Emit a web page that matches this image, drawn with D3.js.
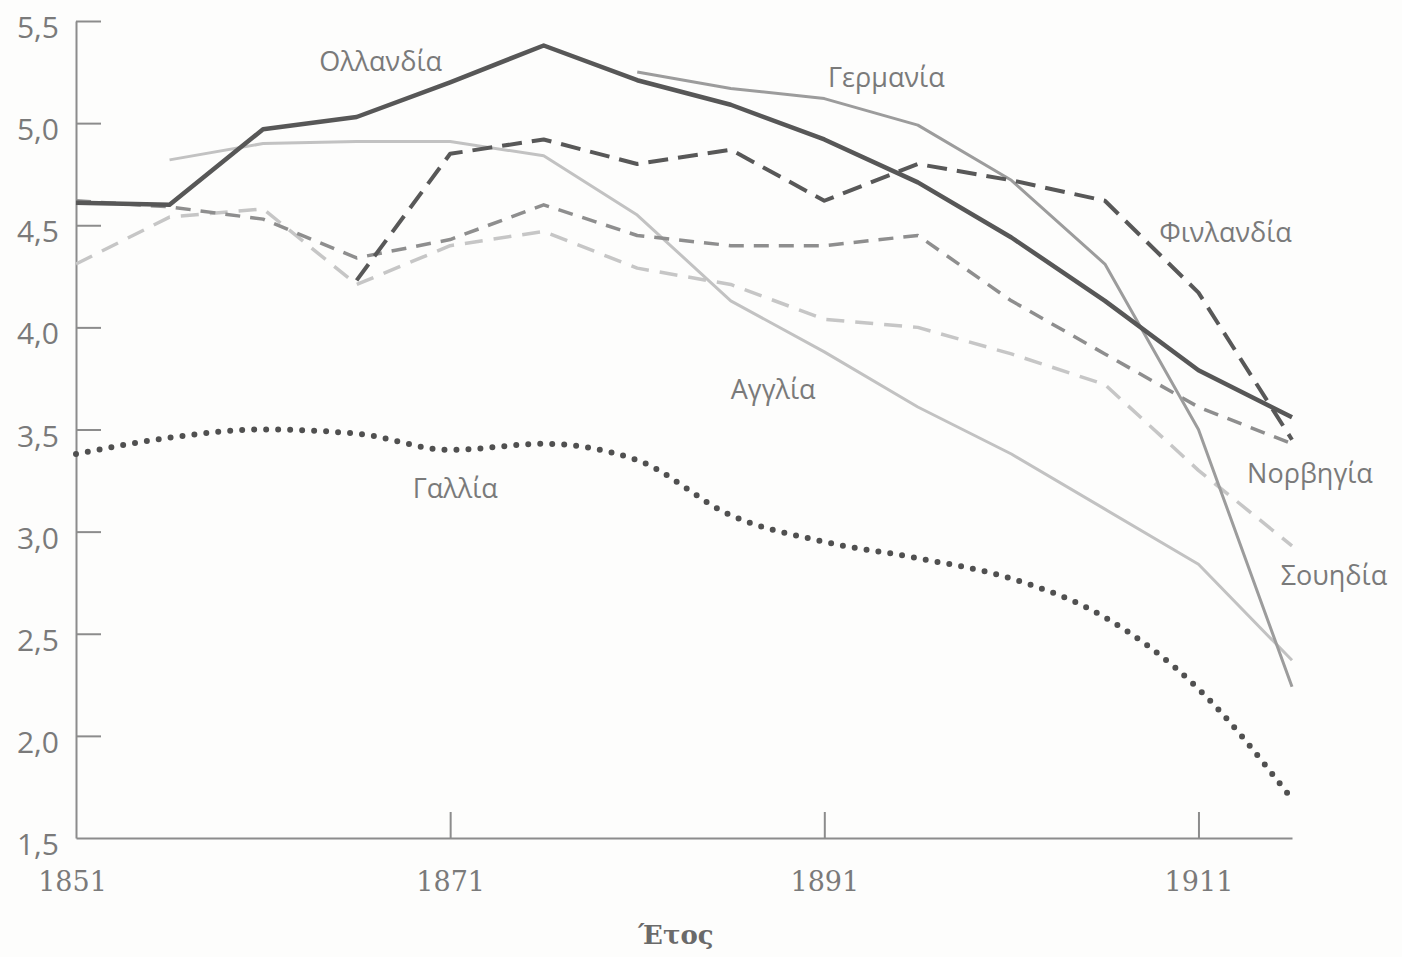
<!DOCTYPE html>
<html>
<head>
<meta charset="utf-8">
<script src="https://cdn.jsdelivr.net/npm/d3@7"></script>
<style>
  html, body { margin: 0; padding: 0; background: #fdfdfc; }
  svg { display: block; }
</style>
</head>
<body>
<svg id="chart" width="1402" height="957"></svg>
<script>
// ---- Data ----
const years = [1851, 1856, 1861, 1866, 1871, 1876, 1881, 1886, 1891, 1896, 1901, 1906, 1911, 1916];

const netherlands = [4.61, 4.60, 4.97, 5.03, 5.20, 5.38, 5.21, 5.09, 4.92, 4.71, 4.44, 4.13, 3.79, 3.56];
const germany     = [null, null, null, null, null, null, 5.25, 5.17, 5.12, 4.99, 4.72, 4.31, 3.50, 2.24];
const finland     = [null, null, null, 4.23, 4.85, 4.92, 4.80, 4.87, 4.62, 4.80, 4.72, 4.62, 4.17, 3.45];
const england     = [null, 4.82, 4.90, 4.91, 4.91, 4.84, 4.55, 4.13, 3.88, 3.61, 3.38, 3.11, 2.84, 2.37];
const norway      = [4.62, 4.59, 4.53, 4.34, 4.43, 4.60, 4.45, 4.40, 4.40, 4.45, 4.13, 3.87, 3.61, 3.43];
const sweden      = [4.31, 4.54, 4.58, 4.21, 4.40, 4.47, 4.29, 4.21, 4.04, 4.00, 3.87, 3.72, 3.30, 2.93];
const france      = [3.38, 3.46, 3.50, 3.48, 3.40, 3.43, 3.35, 3.08, 2.95, 2.87, 2.77, 2.58, 2.23, 1.69];

const yTicks = [1.5, 2.0, 2.5, 3.0, 3.5, 4.0, 4.5, 5.0, 5.5];
const xTicks = [1851, 1871, 1891, 1911];
const xTitle = "Έτος";

const labels = {
  netherlands: "Ολλανδία",
  germany: "Γερμανία",
  finland: "Φινλανδία",
  england: "Αγγλία",
  norway: "Νορβηγία",
  sweden: "Σουηδία",
  france: "Γαλλία"
};

// ---- Layout & styles ----
const svg = d3.select("#chart");
const x = d3.scaleLinear().domain([1851, 1916]).range([76, 1292]);
const y = d3.scaleLinear().domain([1.5, 5.5]).range([838, 21]);

const axisColor = "#8c8c8c";
const textColor = "#7a7a7a";

const series = [
  { key: "sweden",      values: sweden,      color: "#c6c6c6", width: 3.5, dash: "18,11", curve: d3.curveLinear },
  { key: "england",     values: england,     color: "#c2c2c2", width: 3,   dash: null,    curve: d3.curveLinear },
  { key: "norway",      values: norway,      color: "#8e8e8e", width: 3.5, dash: "15,10", curve: d3.curveLinear },
  { key: "germany",     values: germany,     color: "#9c9c9c", width: 3,   dash: null,    curve: d3.curveLinear },
  { key: "france",      values: france,      color: "#505050", width: 6,   dash: "0,12",  curve: d3.curveMonotoneX, cap: "round" },
  { key: "finland",     values: finland,     color: "#585858", width: 4,   dash: "20,10", curve: d3.curveLinear },
  { key: "netherlands", values: netherlands, color: "#575757", width: 4.5, dash: null,    curve: d3.curveLinear }
];

// ---- Axes ----
const fmt = d => d3.format(".1f")(d).replace(".", ",");

const yAxis = svg.append("g")
  .attr("transform", `translate(${x(1851)},0)`)
  .call(d3.axisLeft(y).tickValues(yTicks).tickSizeInner(-25).tickSizeOuter(0).tickPadding(17).tickFormat(fmt));
yAxis.select(".domain").attr("stroke", axisColor).attr("stroke-width", 2);
yAxis.selectAll(".tick line").attr("stroke", axisColor).attr("stroke-width", 2);
yAxis.selectAll(".tick").filter(d => d === 1.5).select("line").remove();
yAxis.selectAll(".tick text")
  .attr("fill", textColor)
  .attr("font-family", "'Open Sans', 'Noto Sans', sans-serif")
  .attr("font-size", 30)
  .attr("dy", "0.55em");

const xAxis = svg.append("g")
  .attr("transform", `translate(0,${y(1.5)})`)
  .call(d3.axisBottom(x).tickValues(xTicks).tickSizeInner(-26).tickSizeOuter(0).tickPadding(48).tickFormat(d3.format("d")));
xAxis.select(".domain").attr("stroke", axisColor).attr("stroke-width", 2);
xAxis.selectAll(".tick line").attr("stroke", axisColor).attr("stroke-width", 2);
xAxis.selectAll(".tick").filter(d => d === 1851).select("line").remove();
xAxis.selectAll(".tick text")
  .attr("fill", textColor)
  .attr("font-family", "'DejaVu Serif', serif")
  .attr("font-size", 27)
  .attr("dy", "0.2em");
xAxis.selectAll(".tick").filter(d => d === 1851).select("text").attr("dx", -4);

svg.append("text")
  .attr("x", 676).attr("y", 944)
  .attr("text-anchor", "middle")
  .attr("fill", "#6a6a6a")
  .attr("font-family", "'DejaVu Serif', serif")
  .attr("font-weight", "bold")
  .attr("font-size", 26)
  .text(xTitle);

// ---- Lines ----
series.forEach(s => {
  const pts = years.map((yr, i) => ({ yr, v: s.values[i] }));
  const line = d3.line()
    .defined(d => d.v !== null)
    .x(d => x(d.yr))
    .y(d => y(d.v))
    .curve(s.curve);
  svg.append("path")
    .datum(pts)
    .attr("fill", "none")
    .attr("stroke", s.color)
    .attr("stroke-width", s.width)
    .attr("stroke-dasharray", s.dash)
    .attr("stroke-linecap", s.cap || "butt")
    .attr("stroke-linejoin", "round")
    .attr("d", line);
});

// ---- Series labels ----
const labelPos = [
  { key: "netherlands", yr: 1864.0, v: 5.255 },
  { key: "germany",     yr: 1891.2, v: 5.175 },
  { key: "finland",     yr: 1908.9, v: 4.42 },
  { key: "england",     yr: 1886.0, v: 3.65 },
  { key: "france",      yr: 1869.0, v: 3.165 },
  { key: "norway",      yr: 1913.6, v: 3.24 },
  { key: "sweden",      yr: 1915.4, v: 2.74 }
];
svg.append("g").selectAll("text")
  .data(labelPos)
  .join("text")
  .attr("x", d => x(d.yr))
  .attr("y", d => y(d.v))
  .attr("fill", textColor)
  .attr("font-family", "'Open Sans', 'Noto Sans', sans-serif")
  .attr("font-size", 27)
  .text(d => labels[d.key]);
</script>
</body>
</html>
